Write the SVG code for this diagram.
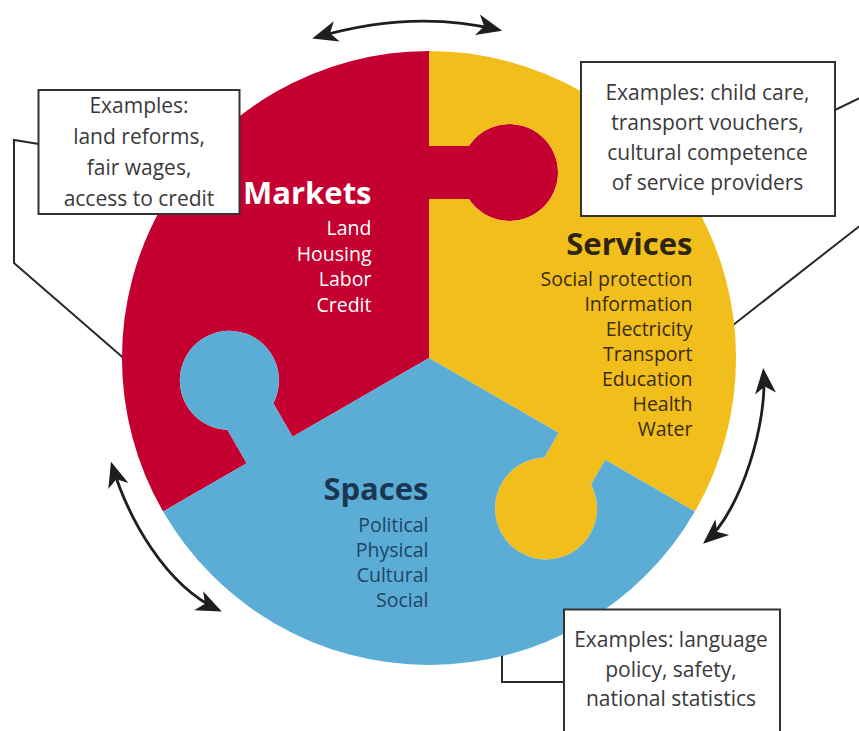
<svg xmlns="http://www.w3.org/2000/svg" width="859" height="731" viewBox="0 0 859 731">
<style>
.lead{fill:none;stroke:#2a2a2a;stroke-width:2}
.arr{fill:none;stroke:#1e1e1e;stroke-width:2.8;marker-start:url(#ah);marker-end:url(#ah)}
.box{fill:#fff;stroke:#333;stroke-width:2}
.note{font-family:"Open Sans","Liberation Sans",sans-serif;font-size:21px;fill:#3a3a3a;text-anchor:middle}
.head{font-family:"Open Sans","Liberation Sans",sans-serif;font-size:31px;font-weight:700;text-anchor:end}
.item{font-family:"Open Sans","Liberation Sans",sans-serif;font-size:19.5px;text-anchor:end}
</style>
<defs>
<marker id="ah" markerUnits="userSpaceOnUse" viewBox="-30 -15 40 30" markerWidth="40" markerHeight="30" refX="0" refY="0" orient="auto-start-reverse" overflow="visible">
<path d="M3.5 0 L-22 -10.5 L-15 0 L-22 10.5 Z" fill="#1e1e1e"/>
</marker>
</defs>
<rect width="859" height="731" fill="#fff"/>
<g id="connectors">
<polyline class="lead" points="39,144 14,140 14,263 135,368"/>
<polyline class="lead" points="835,110 880,88 880,210 728,329"/>
<polyline class="lead" points="564,682 502,682 502,640"/>
<path class="arr" d="M315.6 37.5 Q413 9 498.8 30"/>
<path class="arr" d="M112 465 C128 518 165 585 218.6 610"/>
<path class="arr" d="M763.5 371.5 C768 420 742 510 705.7 541.5"/>
</g>
<g id="markets">
<path fill="#c3002f" d="M429 358 L429 199 L468.9 199 A48.5 48.5 0 1 0 468.9 146 L429 146 L429 51 A307 307 0 0 0 163.1 511.5 L246.7 463.3 L227.35 429.8 A49.5 49.5 0 1 1 273.25 403.25 L292.6 436.75 Z"/>
<text class="head" x="371.5" y="204" fill="#fff">Markets</text>
<text class="item" fill="#fff"><tspan x="371.5" y="235">Land</tspan><tspan x="371.5" y="260.5">Housing</tspan><tspan x="371.5" y="286">Labor</tspan><tspan x="371.5" y="311.5">Credit</tspan></text>
</g>
<g id="services">
<path fill="#f1be1b" d="M429 358 L429 199 L468.9 199 A48.5 48.5 0 1 0 468.9 146 L429 146 L429 51 A307 307 0 0 1 694.9 511.5 L605.3 459.8 L591.05 484.5 A51 51 0 1 1 544.35 457.5 L558.6 432.8 Z"/>
<text class="head" x="692.5" y="255" fill="#2e2412">Services</text>
<text class="item" fill="#3a2c10"><tspan x="692.5" y="285.5">Social protection</tspan><tspan x="692.5" y="310.5">Information</tspan><tspan x="692.5" y="335.5">Electricity</tspan><tspan x="692.5" y="360.5">Transport</tspan><tspan x="692.5" y="385.5">Education</tspan><tspan x="692.5" y="410.5">Health</tspan><tspan x="692.5" y="435.5">Water</tspan></text>
</g>
<g id="spaces">
<path fill="#5badd5" d="M429 358 L558.6 432.8 L544.35 457.5 A51 51 0 1 0 591.05 484.5 L605.3 459.8 L694.9 511.5 A307 307 0 0 1 163.1 511.5 L246.7 463.3 L227.35 429.8 A49.5 49.5 0 1 1 273.25 403.25 L292.6 436.75 Z"/>
<text class="head" x="428.5" y="499.5" fill="#1b3652">Spaces</text>
<text class="item" fill="#1f4565"><tspan x="428.5" y="531.5">Political</tspan><tspan x="428.5" y="556.5">Physical</tspan><tspan x="428.5" y="581.5">Cultural</tspan><tspan x="428.5" y="606.5">Social</tspan></text>
</g>
<g id="note-markets">
<rect class="box" x="38.5" y="90" width="201" height="124"/>
<text class="note"><tspan x="139" y="112.5">Examples:</tspan><tspan x="139" y="143.5">land reforms,</tspan><tspan x="139" y="174.5">fair wages,</tspan><tspan x="139" y="205.5">access to credit</tspan></text>
</g>
<g id="note-services">
<rect class="box" x="581" y="62" width="254" height="154"/>
<text class="note"><tspan x="707.5" y="99.5">Examples: child care,</tspan><tspan x="707.5" y="130">transport vouchers,</tspan><tspan x="707.5" y="160">cultural competence</tspan><tspan x="707.5" y="190">of service providers</tspan></text>
</g>
<g id="note-spaces">
<rect class="box" x="564" y="609.5" width="216" height="135"/>
<text class="note"><tspan x="671" y="646.5">Examples: language</tspan><tspan x="671" y="676.5">policy, safety,</tspan><tspan x="671" y="706">national statistics</tspan></text>
</g>
</svg>
